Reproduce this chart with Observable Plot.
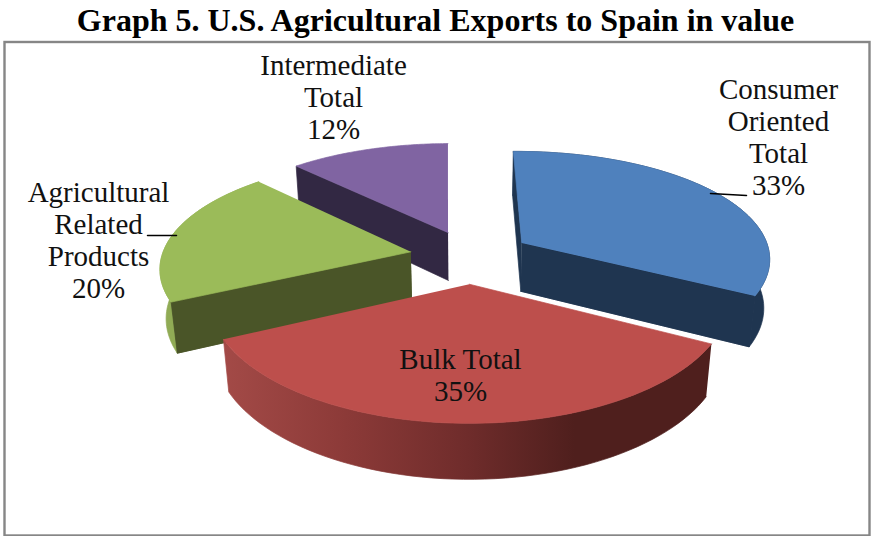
<!DOCTYPE html>
<html>
<head>
<meta charset="utf-8">
<script src="https://cdn.jsdelivr.net/npm/d3@7"></script>
<script src="https://cdn.jsdelivr.net/npm/@observablehq/plot@0.6"></script>
<style>
  html, body { margin: 0; padding: 0; background: #fff; }
  #title { height: 40px; text-align: center; width: 871px;
    font: bold 32px/40px "Liberation Serif", serif; color: #000; white-space: nowrap; }
  svg { display: block; }
</style>
</head>
<body>
<div id="title">Graph 5. U.S. Agricultural Exports to Spain in value</div>
<div id="chart"></div>
<script>
// Data
const categories = ["Consumer\nOriented\nTotal", "Bulk Total", "Agricultural\nRelated\nProducts", "Intermediate\nTotal"];
const shares = [33, 35, 20, 12];

// Styles
const topColors = ["#4f81bd", "#bd4f4c", "#9bbb59", "#8064a2"];
const faceColors = ["#1f3550", "#4f1f1d", "#4a5528", "#322843"];
const rimColors = ["#1f3550", "url(#bulkRim)", "#90ab55", null];

// Projection of the tilted pie
const view = {cx: 470, cy: 256, Ax: 249, kx: 0.13, By: 109, ky: 0.15, explode: 0.245, depth: 50, sink: 0.02, turn: -0.7};
// Which cut faces can be seen: at the start / end angle of each slice
const startFace = [true, false, true, true];
const endFace = [true, false, false, false];
// Label layout
const labelX = [778, 460, 98, 333];
const labelY = [136, 374, 239, 96];
const leaderX = [[710, 746], [147, 176]];
const leaderY = [[193, 195], [235, 235]];

function project(X, Y, low) {
  const sink = low ? view.sink : 0;
  return {
    x: view.cx + view.Ax * X / (1 + view.kx * Y + sink),
    y: view.cy + (-view.By * Y + (low ? view.depth : 0)) / (1 + view.ky * Y + sink)
  };
}

const total = d3.sum(shares);
const turn = view.turn * Math.PI / 180;
let cum = 0;
const slices = shares.map((v) => {
  const a0 = turn + cum / total * 2 * Math.PI;
  cum += v;
  const a1 = turn + cum / total * 2 * Math.PI;
  const mid = (a0 + a1) / 2;
  const ox = view.explode * Math.sin(mid), oy = view.explode * Math.cos(mid);
  const rim = d3.range(0, 61).map(t => {
    const a = a0 + (a1 - a0) * t / 60;
    return [ox + Math.sin(a), oy + Math.cos(a)];
  });
  return {ox, oy, rim};
});

const marks = [
  Plot.frame({stroke: "#868686", strokeWidth: 2.4, insetLeft: 4, insetRight: 2, insetTop: 1.5, insetBottom: 1})
];

const poly = (pts, fill) => Plot.line(pts, {x: "x", y: "y", fill, stroke: fill, strokeWidth: 0.7, curve: "linear"});
const face = (s, end, fill) => poly([
  project(s.ox, s.oy, false), project(end[0], end[1], false),
  project(end[0], end[1], true), project(s.ox, s.oy, true)
], fill);

// Back to front: intermediate, agricultural, consumer, bulk
for (const i of [3, 2, 0, 1]) {
  const s = slices[i];
  if (startFace[i]) marks.push(face(s, s.rim[0], faceColors[i]));
  if (endFace[i]) marks.push(face(s, s.rim[s.rim.length - 1], faceColors[i]));
  if (rimColors[i]) marks.push(poly([
    ...s.rim.map(p => project(p[0], p[1], false)),
    ...s.rim.slice().reverse().map(p => project(p[0], p[1], true))
  ], rimColors[i]));
  if (i === 0 || i === 2) marks.push(face(s, i === 0 ? s.rim[s.rim.length - 1] : s.rim[0], faceColors[i]));
  marks.push(poly([
    project(s.ox, s.oy, false),
    ...s.rim.map(p => project(p[0], p[1], false))
  ], topColors[i]));
}

// Leader lines
leaderX.forEach((xs, j) => {
  marks.push(Plot.line(xs.map((x, n) => ({x, y: leaderY[j][n]})), {x: "x", y: "y", stroke: "#000", strokeWidth: 1.5}));
});

// Labels
marks.push(Plot.text(categories.map((c, i) => ({
  text: `${c}\n${shares[i]}%`, x: labelX[i], y: labelY[i]
})), {
  x: "x", y: "y", text: "text", fontSize: 29, lineHeight: 1.1, fill: "#111",
  fontFamily: "'Liberation Serif', serif", textAnchor: "middle", stroke: "none"
}));

const svg = Plot.plot({
  width: 871, height: 496, margin: 0,
  style: {background: "#fff", overflow: "visible"},
  x: {domain: [0, 871], range: [0, 871], axis: null},
  y: {domain: [40, 536], range: [0, 496], axis: null},
  marks
});

// Horizontal shading of the bulk slice's rim
const grad = d3.select(svg).insert("defs", ":first-child").append("linearGradient")
  .attr("id", "bulkRim").attr("x1", 0).attr("x2", 1).attr("y1", 0).attr("y2", 0);
[[0, "#a34a47"], [0.25, "#8c3a38"], [0.5, "#6f2c2b"], [0.72, "#4f1f1d"], [1, "#4f1f1d"]]
  .forEach(([o, c]) => grad.append("stop").attr("offset", o).attr("stop-color", c));

document.getElementById("chart").appendChild(svg);
</script>
</body>
</html>
